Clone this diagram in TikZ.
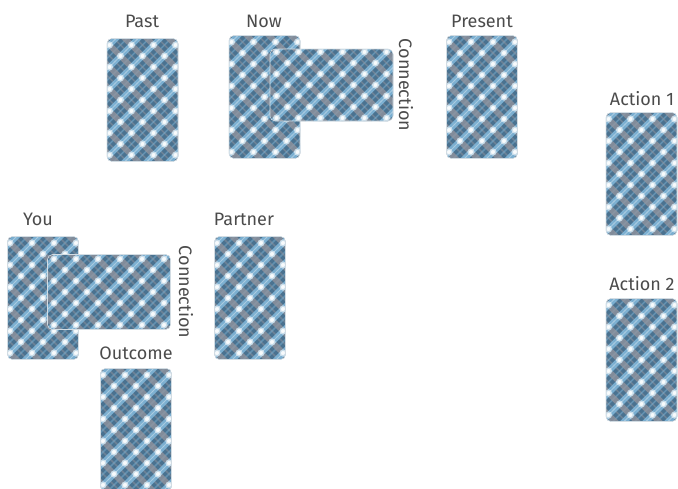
\documentclass[tikz,border=0pt]{standalone}
\usepackage{fontspec}
\setmainfont{Fira Sans}
\definecolor{plaidbase}{RGB}{74,114,144}
\definecolor{plaidlight}{RGB}{135,190,225}
\definecolor{plaidgrey}{RGB}{150,150,158}
\definecolor{labelgrey}{RGB}{75,75,75}
\tikzset{
 plaid/.style={
  rounded corners=5pt, fill=plaidbase, draw=white!75!plaidbase, line width=0.6pt, inner sep=0pt,
  path picture={
   \coordinate (pc) at (path picture bounding box.center);
   \foreach \k in {-7,...,7}{
     \draw[plaidgrey, line width=1.5pt, opacity=.45] ([shift={(\k*22pt+11pt+110pt,-110pt)}]pc) -- ++(-220pt,220pt);
     \draw[plaidlight, line width=1.5pt, opacity=.4] ([shift={(\k*22pt+11pt-110pt,-110pt)}]pc) -- ++(220pt,220pt);
   }
   \foreach \k in {-7,...,7}{
     \draw[plaidgrey, line width=6pt, opacity=.75] ([shift={(\k*22pt+110pt,-110pt)}]pc) -- ++(-220pt,220pt);
   }
   \foreach \k in {-7,...,7}{
     \draw[plaidlight, line width=6pt, opacity=.8] ([shift={(\k*22pt-110pt,-110pt)}]pc) -- ++(220pt,220pt);
     \draw[white, line width=0.8pt, opacity=.35] ([shift={(\k*22pt-110pt,-110pt)}]pc) -- ++(220pt,220pt);
   }
   \foreach \k in {-5,...,5}{
     \foreach \m in {-5,...,5}{
       \fill[white, opacity=.55] ([shift={(\k*11pt+\m*11pt,\m*11pt-\k*11pt)}]pc) circle[radius=3.6pt];
       \fill[white, opacity=.85] ([shift={(\k*11pt+\m*11pt,\m*11pt-\k*11pt)}]pc) circle[radius=2pt];
     }
   }
  }
 },
 card/.style={plaid, minimum width=71pt, minimum height=123pt},
 wide/.style={plaid, minimum width=123pt, minimum height=72pt},
 lab/.style={text=labelgrey, font=\fontsize{18}{21}\selectfont, inner sep=0pt}
}
\begin{document}
\begin{tikzpicture}[x=1pt,y=-1pt]
\useasboundingbox (0,0) rectangle (678,488);
% cards
\node[card] (past) at (142.5,100) {};
\node[card] (now) at (264.5,97) {};
\node[wide] (nowconn) at (331.5,85) {};
\node[card] (present) at (482,97) {};
\node[card] (act1) at (641.5,174) {};
\node[card] (act2) at (641.5,360) {};
\node[card] (you) at (43,298) {};
\node[wide, minimum height=75pt] (youconn) at (109,292) {};
\node[card] (partner) at (250,298) {};
\node[card] (outcome) at (136,430) {};
% labels
\node[lab] (lpast) at (142,21) {Past};
\node[lab] (lnow) at (264,21) {Now};
\node[lab] (lpresent) at (482,21) {Present};
\node[lab] (lact1) at (642,99) {Action 1};
\node[lab] (lact2) at (642,284) {Action 2};
\node[lab] (lyou) at (38,219) {You};
\node[lab] (lpartner) at (244,219) {Partner};
\node[lab] (loutcome) at (136,353) {Outcome};
\node[lab, rotate=-90] (lconn1) at (406,85) {Connection};
\node[lab, rotate=-90] (lconn2) at (186,292) {Connection};
\end{tikzpicture}
\end{document}
